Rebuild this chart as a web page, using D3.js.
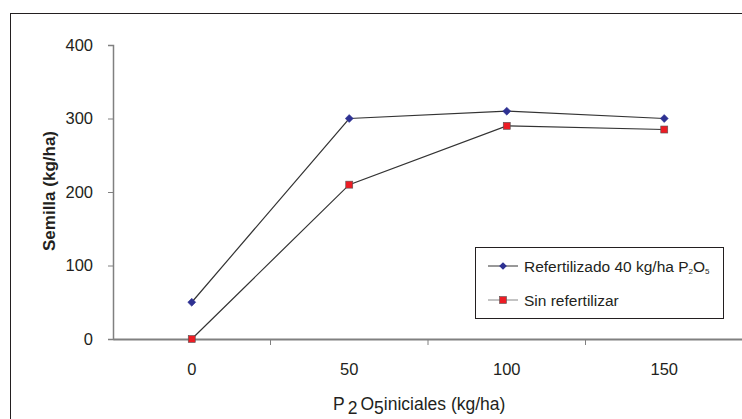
<!DOCTYPE html>
<html><head><meta charset="utf-8">
<script src="https://cdn.jsdelivr.net/npm/d3@7"></script>
<style>body{margin:0;background:#fff}svg{display:block}text{font-family:"Liberation Sans",Arial,sans-serif;fill:#231f20}</style>
</head><body>
<svg id="c" width="742" height="419"></svg>
<script>
const categories = ["0", "50", "100", "150"];
const refertilizado = [50, 300, 310, 300];
const sinRefertilizar = [0, 210, 290, 285];
const yTicks = [0, 100, 200, 300, 400];
const seriesNames = ["Refertilizado 40 kg/ha P\u2082O\u2085", "Sin refertilizar"];

const svg = d3.select("#c");
svg.append("rect").attr("x", 10.5).attr("y", 13.5).attr("width", 900).attr("height", 600)
  .attr("fill", "none").attr("stroke", "#231f20").attr("stroke-width", 1);

const x = d3.scaleBand().domain(categories).range([113, 743]);
const y = d3.scaleLinear().domain([0, 400]).range([339, 45]);

// y axis
const ya = svg.append("g").attr("transform", "translate(113,0)")
  .call(d3.axisLeft(y).tickValues(yTicks).tickSize(5).tickPadding(15));
ya.select(".domain").attr("stroke", "#808080").attr("stroke-width", 1.5);
ya.selectAll(".tick line").attr("stroke", "#808080");
ya.selectAll("text").attr("font-size", 16.5).style("fill", "#231f20").attr("font-family", "Liberation Sans, Arial, sans-serif");

// x axis
const xa = svg.append("g").attr("transform", "translate(0,339)")
  .call(d3.axisBottom(x).tickSize(0).tickPadding(24));
xa.select(".domain").attr("stroke", "#808080").attr("stroke-width", 2);
xa.selectAll("text").attr("font-size", 16.5).style("fill", "#231f20").attr("font-family", "Liberation Sans, Arial, sans-serif");
const bounds = categories.map(c => x(c)).concat([x.range()[1]]);
svg.append("g").selectAll("line").data(bounds.slice(1)).join("line")
  .attr("x1", d => d).attr("x2", d => d).attr("y1", 339).attr("y2", 345)
  .attr("stroke", "#808080").attr("stroke-width", 1);

const cx = c => x(c) + x.bandwidth() / 2;
const line = d3.line().x((d, i) => cx(categories[i])).y(d => y(d));

svg.append("path").datum(refertilizado).attr("d", line).attr("fill", "none").attr("stroke", "#333").attr("stroke-width", 1.2);
svg.append("path").datum(sinRefertilizar).attr("d", line).attr("fill", "none").attr("stroke", "#333").attr("stroke-width", 1.2);

svg.append("g").selectAll("path").data(refertilizado).join("path")
  .attr("d", d3.symbol().type(d3.symbolSquare).size(32))
  .attr("transform", (d, i) => `translate(${cx(categories[i])},${y(d)}) rotate(45)`)
  .attr("fill", "#2e3192").attr("stroke", "#2e3192").attr("stroke-width", 0.5);
svg.append("g").selectAll("rect").data(sinRefertilizar).join("rect")
  .attr("x", (d, i) => cx(categories[i]) - 3.5).attr("y", d => y(d) - 3.5)
  .attr("width", 7).attr("height", 7)
  .attr("fill", "#ed1c24").attr("stroke", "#555").attr("stroke-width", 0.6);

// axis titles
svg.append("text").attr("transform", "translate(55,191) rotate(-90)").attr("text-anchor", "middle")
  .attr("font-size", 17).attr("font-weight", "bold").text("Semilla (kg/ha)");
const xt = svg.append("text").attr("x", 333).attr("y", 410).attr("font-size", 17.5);
xt.append("tspan").text("P");
xt.append("tspan").attr("dy", 4).attr("dx", 3).text("2");
xt.append("tspan").attr("dy", -4).attr("dx", 3).text("O");
xt.append("tspan").attr("dy", 4).text("5");
xt.append("tspan").attr("dy", -4).text("iniciales (kg/ha)");

// legend
const lg = svg.append("g");
lg.append("rect").attr("x", 475.5).attr("y", 247.5).attr("width", 248).attr("height", 71)
  .attr("fill", "#fff").attr("stroke", "#231f20").attr("stroke-width", 1);
const rows = [266, 300];
lg.append("line").attr("x1", 488).attr("x2", 518).attr("y1", rows[0]).attr("y2", rows[0]).attr("stroke", "#333");
lg.append("path").attr("d", d3.symbol().type(d3.symbolSquare).size(30)).attr("transform", `translate(503,${rows[0]}) rotate(45)`).attr("fill", "#2e3192");
lg.append("line").attr("x1", 488).attr("x2", 518).attr("y1", rows[1]).attr("y2", rows[1]).attr("stroke", "#888");
lg.append("rect").attr("x", 499.5).attr("y", rows[1] - 3.5).attr("width", 7).attr("height", 7).attr("fill", "#ed1c24").attr("stroke", "#555").attr("stroke-width", 0.6);
const t1 = lg.append("text").attr("x", 524).attr("y", rows[0] + 5.5).attr("font-size", 15.5);
t1.append("tspan").text("Refertilizado 40 kg/ha P");
t1.append("tspan").attr("font-size", 8).attr("dy", 2).text("2");
t1.append("tspan").attr("dy", -2).text("O");
t1.append("tspan").attr("font-size", 8).attr("dy", 2).text("5");
lg.append("text").attr("x", 524).attr("y", rows[1] + 5.5).attr("font-size", 15.5).text(seriesNames[1]);
</script>
</body></html>
